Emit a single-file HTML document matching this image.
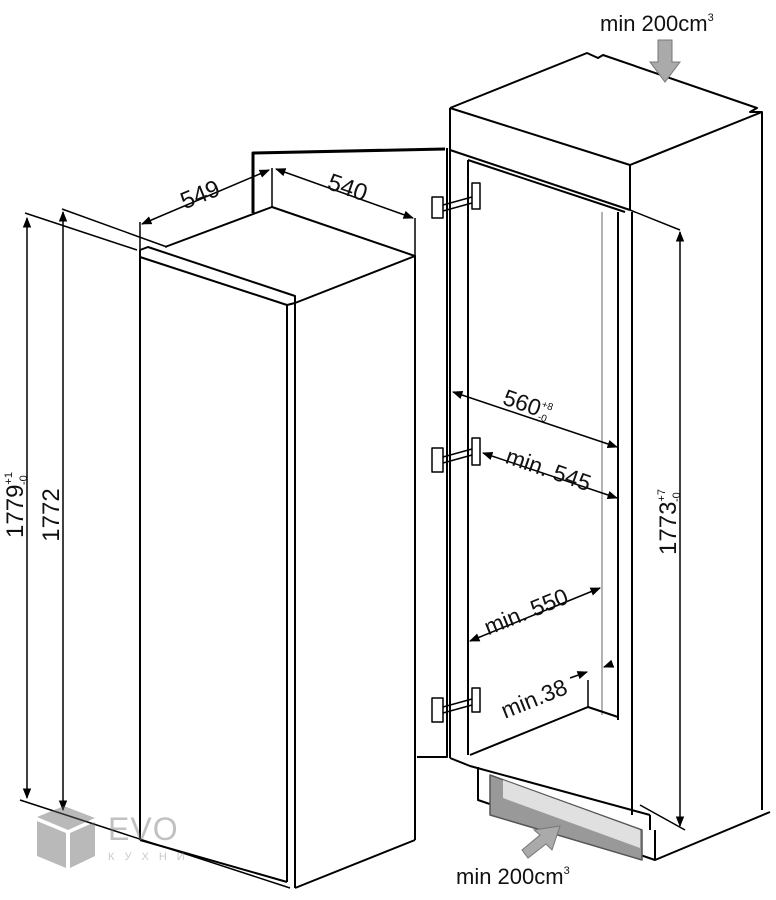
<!DOCTYPE html>
<html><head><meta charset="utf-8"><style>
html,body{margin:0;padding:0;background:#fff;}
svg{display:block;}
text{font-family:"Liberation Sans",Arial,sans-serif;fill:#111;}
</style></head><body>
<svg width="776" height="900" viewBox="0 0 776 900" xmlns="http://www.w3.org/2000/svg">
<defs>
<marker id="a" viewBox="0 0 10 10" refX="9" refY="5" markerWidth="7" markerHeight="7" orient="auto-start-reverse"><path d="M0,1 L10,5 L0,9 Z" fill="#000"/></marker>
</defs>
<g stroke="#000" stroke-width="2" fill="none" stroke-linejoin="round">
<path d="M140,250 L140,840"/>
<path d="M140,250 L148,247 L295,296 L295,888"/>
<path d="M140,257 L287,305 L287,882"/>
<path d="M287,305 L295,303"/>
<path d="M165,247 L272,207 L415,256 L295,303"/>
<path d="M415,256 L415,840"/>
<path d="M295,888 L415,840"/>
<path d="M140,840 L287,882"/>
<path d="M20,800 L290,888" stroke-width="1.5"/>
<path d="M25,213 L137,250" stroke-width="1.5"/>
<path d="M62,209 L167,247" stroke-width="1.5"/>
<path d="M27,218 L27,798" stroke-width="1.5" marker-start="url(#a)" marker-end="url(#a)"/>
<path d="M63,212 L63,810" stroke-width="1.5" marker-start="url(#a)" marker-end="url(#a)"/>
<path d="M140,222 L140,250" stroke-width="1.5"/>
<path d="M272,168 L272,207" stroke-width="1.5"/>
<path d="M415,218 L415,256" stroke-width="1.5"/>
<path d="M142,224 L269,170" stroke-width="1.5" marker-start="url(#a)" marker-end="url(#a)"/>
<path d="M276,169 L413,218" stroke-width="1.5" marker-start="url(#a)" marker-end="url(#a)"/>
<path d="M253,213 L253,153 L445,149" stroke-width="3"/>
<path d="M447,148 L447,757 L417,757"/>
<path d="M450,108 L587,53 L598,58 L603,55 L757,108 L750,112 L762,112 L762,810"/>
<path d="M450,108 L630,165 L762,112"/>
<path d="M450,108 L450,758"/>
<path d="M450,150 L630,210"/>
<path d="M630,165 L630,210"/>
<path d="M468,160 L625,212"/>
<path d="M468,160 L468,755"/>
<path d="M618,212 L618,720"/>
<path d="M632,212 L632,815"/>
<path d="M602,212 L602,715" stroke="#999" stroke-width="1.5"/>
<path d="M630,210 L680,230" stroke-width="1.5"/>
<path d="M680,232 L680,826" stroke-width="1.5" marker-start="url(#a)" marker-end="url(#a)"/>
<path d="M640,805 L685,830" stroke-width="1.5"/>
<path d="M470,755 L588,707 L618,717"/>
<path d="M588,680 L588,707" stroke-width="1.5"/>
<path d="M450,758 L470,766 L650,815"/>
<path d="M478,767 L478,800 L655,860 L770,812"/>
<path d="M655,830 L655,860"/>
<path d="M650,815 L650,830"/>
<path d="M490,775 L490,815 L642,860 L642,830 Z" fill="#999" stroke="#555" stroke-width="1.5"/>
<path d="M503,780 L640,830 L640,848 L503,798 Z" fill="#e0e0e0" stroke="none"/>
<g stroke-width="1.5">
<rect x="432" y="197" width="11" height="21" fill="#fff"/><rect x="472" y="183" width="8" height="26" fill="#fff"/><path d="M443,205 L472,197 M443,211 L472,203"/>
<rect x="432" y="448" width="11" height="24" fill="#fff"/><rect x="472" y="438" width="8" height="27" fill="#fff"/><path d="M443,457 L472,449 M443,463 L472,455"/>
<rect x="432" y="698" width="11" height="24" fill="#fff"/><rect x="472" y="688" width="8" height="24" fill="#fff"/><path d="M443,707 L472,699 M443,713 L472,705"/>
</g>
<path d="M453,392 L617,447" stroke-width="1.5" marker-start="url(#a)" marker-end="url(#a)"/>
<path d="M483,453 L617,498" stroke-width="1.5" marker-start="url(#a)" marker-end="url(#a)"/>
<path d="M470,641 L600,588" stroke-width="1.5" marker-start="url(#a)" marker-end="url(#a)"/>
<path d="M570,678 L587,672" stroke-width="1.5" marker-end="url(#a)"/>
<path d="M612,664 L604,667" stroke-width="1.5" marker-end="url(#a)"/>
</g>
<path d="M658,40 L672,40 L672,62 L680,62 L665,82 L650,62 L658,62 Z" fill="#aaa" stroke="#777" stroke-width="1"/>
<path d="M522,850 L540,835 L534,830 L560,826 L552,850 L546,844 L528,858 Z" fill="#aaa" stroke="#777" stroke-width="1"/>
<g opacity="0.45" fill="#666">
<path d="M37,817 L64,806 L95,818 L68,830 Z"/><path d="M37,821 L66,833 L66,868 L37,856 Z"/><path d="M70,833 L95,822 L95,856 L70,868 Z"/>
<text x="108" y="840" font-size="32" style="fill:#777;letter-spacing:1px">EVO</text>
<text x="108" y="860" font-size="11" style="fill:#888;letter-spacing:10px">КУХНИ</text>
</g>
<text x="600" y="31" font-size="22">min 200cm<tspan font-size="11" dy="-10">3</tspan></text>
<text x="456" y="884" font-size="22">min 200cm<tspan font-size="11" dy="-10">3</tspan></text>
<text font-size="24" transform="translate(203,202) rotate(-22)" text-anchor="middle">549</text>
<text font-size="24" transform="translate(345,195) rotate(19)" text-anchor="middle">540</text>
<text font-size="24" transform="translate(23,505) rotate(-90)" text-anchor="middle">1779<tspan font-size="11" dy="-11">+1</tspan><tspan font-size="11" dx="-13" dy="15">-0</tspan></text>
<text font-size="24" transform="translate(59,515) rotate(-90)" text-anchor="middle">1772</text>
<text font-size="24" transform="translate(676,522) rotate(-90)" text-anchor="middle">1773<tspan font-size="11" dy="-11">+7</tspan><tspan font-size="11" dx="-13" dy="15">-0</tspan></text>
<text font-size="23" transform="translate(525,412) rotate(19)" text-anchor="middle">560<tspan font-size="10" dy="-10">+8</tspan><tspan font-size="10" dx="-11" dy="13">-0</tspan></text>
<text font-size="23" transform="translate(546,477) rotate(19)" text-anchor="middle">min. 545</text>
<text font-size="23" transform="translate(529,619) rotate(-22)" text-anchor="middle">min. 550</text>
<text font-size="23" transform="translate(537,706) rotate(-22)" text-anchor="middle">min.38</text>
</svg>
</body></html>
